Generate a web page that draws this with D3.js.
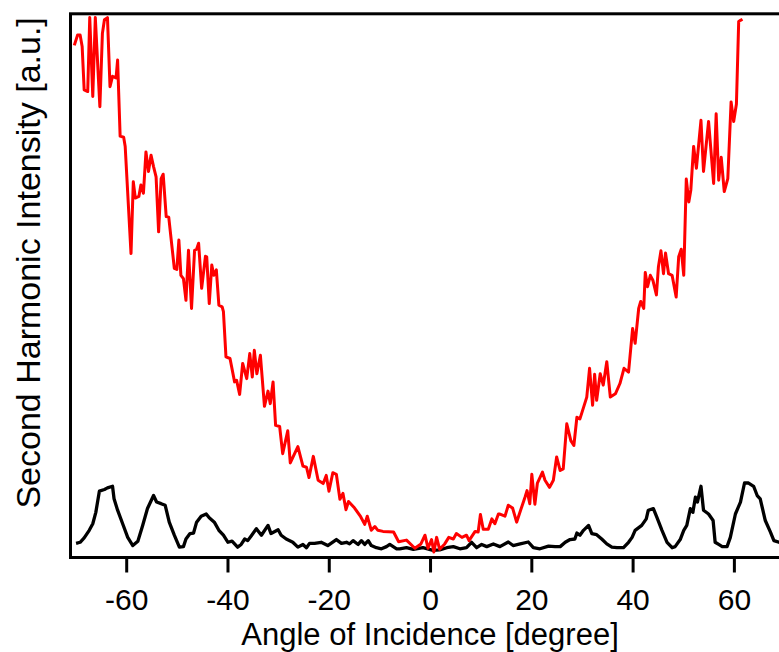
<!DOCTYPE html>
<html>
<head>
<meta charset="utf-8">
<script src="https://cdn.jsdelivr.net/npm/d3@7"></script>
<style>
  html, body { margin: 0; padding: 0; background: #fff; }
  svg { display: block; }
  text { font-family: "Liberation Sans", Arial, sans-serif; fill: #000; }
</style>
</head>
<body>
<svg id="chart" width="779" height="652"></svg>
<script>
// p-polarized SHG (red) vs angle of incidence
const redAngle = [-70.25,-69.6,-69.1,-68.7,-68.3,-67.6,-67.2,-66.6,-66.1,-65.2,
  -64.7,-64.3,-63.7,-63.2,-62.7,-62.0,-61.7,-61.2,-60.5,-60.2,
  -59.05,-58.6,-58.2,-57.5,-57.1,-56.6,-56.1,-55.6,-55.1,-54.6,
  -54.1,-53.6,-53.1,-52.7,-52.1,-51.6,-50.5,-50.0,-49.6,-49.2,
  -48.7,-48.2,-47.7,-47.1,-46.5,-46.1,-45.7,-45.1,-44.35,-44.1,
  -43.6,-43.1,-42.7,-42.2,-41.7,-41.05,-40.8,-40.3,-39.5,-38.6,
  -38.2,-37.6,-37.0,-36.2,-35.6,-35.1,-34.7,-34.2,-33.5,-32.7,
  -32.0,-31.55,-31.0,-30.5,-29.7,-29.1,-28.1,-27.6,-26.1,-25.1,
  -24.4,-23.9,-23.05,-22.1,-21.1,-20.5,-19.96,-19.2,-18.5,-17.8,
  -17.2,-16.6,-16.1,-14.9,-13.7,-12.9,-12.4,-11.6,-10.9,-10.3,
  -9.3,-7.2,-6.2,-4.65,-3.0,-1.8,-1.0,-0.4,0.3,0.75,
  1.3,1.9,2.9,3.7,4.6,5.2,6.3,7.2,7.7,8.9,
  9.5,9.95,10.5,11.5,12.2,12.8,13.5,13.8,14.8,15.45,
  16.3,17.1,18.1,18.75,19.15,19.7,20.1,20.7,21.2,22.2,
  22.7,23.6,24.35,25.0,25.7,26.3,27.0,27.8,28.4,29.0,
  29.6,30.95,31.5,32.1,32.5,32.9,33.6,34.2,34.9,35.6,
  36.6,37.5,38.3,39.2,40.0,40.5,41.2,41.6,42.2,42.5,
  42.95,43.5,44.0,44.7,45.1,45.6,46.1,46.5,47.1,47.8,
  48.6,49.1,49.6,50.1,50.6,51.1,51.5,52.05,52.6,53.5,
  54.0,55.0,56.0,56.5,57.0,57.5,58.1,58.8,59.45,59.96,
  60.5,60.95,61.3,61.7];
const redIntensity = [94.2,96.1,96.1,94.0,86.0,85.7,99.3,84.8,99.3,82.9,
  96.4,98.9,99.3,86.6,88.5,88.2,91.5,77.5,77.3,75.6,
  55.9,69.1,66.1,66.4,68.5,67.0,74.6,71.0,74.0,71.9,
  70.0,59.9,69.7,70.5,62.7,62.6,53.2,53.0,58.4,51.9,
  51.3,47.3,56.5,45.8,56.5,56.7,57.8,49.5,55.4,55.3,
  46.7,53.8,51.9,52.9,46.4,46.1,45.2,36.9,36.6,32.3,
  32.6,30.0,35.7,32.9,37.5,33.2,38.1,33.8,37.2,27.8,
  30.6,28.3,32.3,24.3,24.1,19.1,23.3,17.4,20.4,16.8,
  16.6,14.7,18.6,14.2,13.6,15.1,12.2,15.6,15.3,10.7,
  11.8,8.8,10.3,9.1,7.5,6.1,7.6,5.0,5.7,5.0,
  4.8,4.7,2.9,3.2,1.7,2.5,4.1,1.7,3.3,1.0,
  3.7,1.5,2.5,3.7,3.4,4.4,3.7,4.1,3.1,4.8,
  4.7,7.9,5.2,5.2,7.1,6.2,8.0,8.0,7.6,9.6,
  9.1,6.5,9.3,11.1,12.3,9.9,15.3,9.8,13.7,15.7,
  14.2,12.9,14.2,18.5,16.0,16.3,24.6,21.5,20.6,25.8,
  25.5,29.5,34.8,28.0,33.7,28.9,33.8,31.7,36.0,29.5,
  30.1,32.0,34.8,34.1,42.1,39.4,45.8,47.1,45.8,52.4,
  49.8,51.9,51.0,48.3,53.5,56.4,52.2,56.0,52.2,51.9,
  47.9,55.3,56.7,51.9,69.6,65.4,67.6,75.6,71.6,80.4,
  71.0,80.2,68.8,81.6,69.4,73.6,67.3,69.7,83.8,80.2,
  83.4,98.6,98.8,99.0];

// s-polarized SHG (black)
const blackAngle = [-69.9,-69.1,-68.3,-67.3,-66.6,-66.0,-65.3,-64.3,-63.7,-62.7,
  -62.4,-61.7,-60.7,-59.7,-58.7,-57.7,-56.75,-55.8,-54.6,-54.0,
  -53.1,-52.3,-51.5,-50.5,-49.5,-48.7,-48.2,-47.4,-46.7,-46.1,
  -45.2,-44.2,-43.6,-42.6,-41.7,-40.8,-39.9,-39.1,-38.0,-37.3,
  -36.6,-36.0,-35.25,-34.3,-33.3,-32.0,-31.4,-30.0,-29.4,-28.4,
  -27.1,-26.1,-25.1,-24.4,-23.8,-22.8,-21.5,-20.2,-18.5,-17.5,
  -16.5,-15.9,-15.2,-14.2,-13.55,-12.9,-12.2,-11.6,-10.6,-9.6,
  -8.6,-7.95,-6.6,-6.0,-4.65,-3.3,-1.4,0.6,1.9,3.3,
  4.6,5.9,7.2,8.2,9.2,10.2,11.2,12.5,13.8,15.45,
  16.4,17.8,19.4,20.4,21.7,23.4,24.7,25.7,26.7,27.65,
  28.6,29.0,29.6,30.3,31.3,31.95,32.9,33.9,34.9,35.9,
  36.9,38.2,39.2,39.9,40.5,41.8,42.7,43.1,44.1,44.8,
  45.8,46.8,47.8,48.4,49.4,50.1,50.7,51.4,51.9,52.4,
  52.8,53.5,54.0,55.0,55.9,56.3,57.0,57.7,58.65,59.3,
  60.3,61.3,62.1,62.9,63.9,64.6,65.2,66.2,67.2,67.9,
  68.9,70.5];
const blackIntensity = [2.6,2.8,3.6,5.0,6.2,8.3,12.2,12.5,12.8,13.1,
  10.8,8.7,6.2,3.7,2.2,3.0,5.9,9.0,11.4,10.2,
  9.9,9.6,6.5,4.1,1.9,2.0,3.4,4.4,4.5,6.5,
  7.6,8.0,7.3,6.5,5.0,4.1,2.8,3.0,1.9,2.4,
  3.4,3.1,4.05,5.3,4.1,5.9,4.4,5.1,4.1,3.4,
  2.8,1.9,2.4,1.8,2.6,2.6,2.8,2.2,3.3,2.6,
  2.8,2.5,3.1,2.4,3.1,2.4,3.1,2.2,1.8,1.6,
  2.0,2.4,1.6,1.6,1.8,1.5,1.8,1.3,1.4,1.8,
  2.0,1.6,1.8,2.8,1.8,2.4,2.0,2.5,2.0,2.85,
  2.2,2.5,2.85,1.8,1.6,2.1,2.0,2.0,2.8,3.3,
  3.4,4.5,4.1,5.0,5.9,4.4,4.2,3.4,2.5,1.9,
  1.8,1.8,2.8,3.7,5.0,5.9,7.1,8.7,9.0,7.4,
  5.0,2.8,1.8,2.0,3.3,5.0,5.9,9.0,8.3,11.1,
  10.2,13.1,8.7,8.0,6.8,2.8,2.4,2.0,2.0,3.7,
  8.0,10.2,13.7,13.7,13.1,11.4,10.8,6.8,4.7,3.1,
  2.8,2.8];

const xTicks = [-60, -40, -20, 0, 20, 40, 60];
const xLabel = 'Angle of Incidence [degree]';
const yLabel = 'Second Harmonic Intensity [a.u.]';

(() => {
  const svg = d3.select('#chart');
  const left = 70.5, top = 13.8, bottom = 557.5;
  // right edge of the frame sits past the window edge
  const right = left + 142 * 5.064;

  const x = d3.scaleLinear().domain([-71, 71]).range([left, right]);
  const y = d3.scaleLinear().domain([0, 100]).range([bottom, top]);

  const zip = (a, b) => a.map((v, i) => [v, b[i]]);
  const line = d3.line().x(d => x(d[0])).y(d => y(d[1]));

  svg.append('path')
    .datum(zip(blackAngle, blackIntensity))
    .attr('d', line)
    .attr('fill', 'none')
    .attr('stroke', '#000')
    .attr('stroke-width', 3.3)
    .attr('stroke-linejoin', 'round');

  svg.append('path')
    .datum(zip(redAngle, redIntensity))
    .attr('d', line)
    .attr('fill', 'none')
    .attr('stroke', '#ff0000')
    .attr('stroke-width', 3)
    .attr('stroke-linejoin', 'round');

  // frame
  svg.append('rect')
    .attr('x', left).attr('y', top)
    .attr('width', right - left).attr('height', bottom - top)
    .attr('fill', 'none')
    .attr('stroke', '#000')
    .attr('stroke-width', 3);

  // bottom axis, plain hyphen for negatives
  const xAxis = d3.axisBottom(x).tickValues(xTicks).tickFormat(d => String(d))
    .tickSize(15).tickPadding(16);
  const gx = svg.append('g').attr('transform', `translate(0,${bottom})`).call(xAxis);
  gx.select('.domain').remove();
  gx.selectAll('.tick line').attr('stroke', '#000').attr('stroke-width', 3);
  gx.selectAll('.tick text')
    .attr('font-size', 30)
    .attr('font-family', '"Liberation Sans", Arial, sans-serif')
    .attr('fill', '#000');

  svg.append('text')
    .attr('x', x(0)).attr('y', 645)
    .attr('text-anchor', 'middle')
    .attr('font-size', 31)
    .text(xLabel);

  svg.append('text')
    .attr('transform', `translate(40,${(top + 512) / 2}) rotate(-90)`)
    .attr('text-anchor', 'middle')
    .attr('font-size', 34)
    .text(yLabel);
})();
</script>
</body>
</html>
